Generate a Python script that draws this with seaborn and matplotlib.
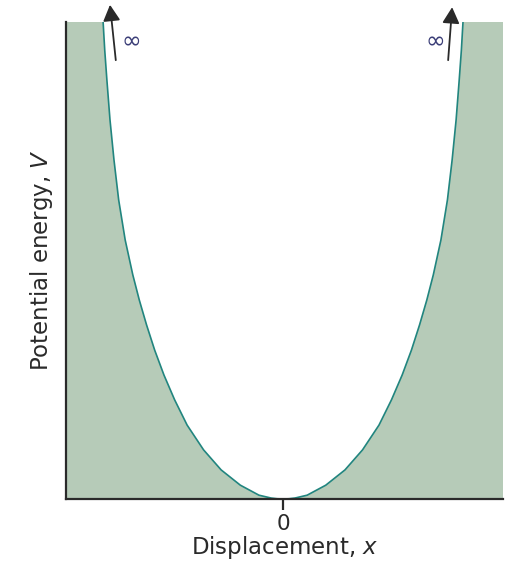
import numpy as np
import pandas as pd
import matplotlib
matplotlib.use("Agg")
import matplotlib.pyplot as plt
import seaborn as sns

# Potential-energy well, left wall then right wall
# (displacement scaled so the walls reach the top of the frame near ±1)
displacement = [-0.994, -0.985, -0.973, -0.956, -0.934, -0.908, -0.872,
                -0.830, -0.794, -0.754, -0.709, -0.658, -0.599, -0.530,
                -0.439, -0.342, -0.236, -0.133, -0.066, -0.033, 0.000,
                0.033, 0.066, 0.133, 0.236, 0.342, 0.439, 0.530, 0.599,
                0.658, 0.709, 0.754, 0.794, 0.830, 0.872, 0.908, 0.934,
                0.956, 0.973, 0.985, 0.994]
potential = [1.000, 0.941, 0.878, 0.795, 0.711, 0.627, 0.543,
             0.470, 0.417, 0.365, 0.312, 0.260, 0.208, 0.155,
             0.103, 0.061, 0.029, 0.008, 0.002, 0.0005, 0.000,
             0.0005, 0.002, 0.008, 0.029, 0.061, 0.103, 0.155, 0.208,
             0.260, 0.312, 0.365, 0.417, 0.470, 0.543, 0.627, 0.711,
             0.795, 0.878, 0.941, 1.000]
x_tick_values = [0]
x_tick_labels = ["0"]
infinity_label = "∞"

x_limits = (-1.199, 1.215)
v_top = 1.0

curve_color = "#21857f"
fill_color = "#b6cbb8"
ink = "#2a2a2a"

sns.set_theme(style="white")
plt.rcParams["font.family"] = ["DejaVu Sans"]
plt.rcParams["mathtext.fontset"] = "dejavusans"

fig = plt.figure(figsize=(5.12, 5.61), dpi=100)
ax = fig.add_axes([66 / 512, 1 - 499 / 561, 437 / 512, 477 / 561])

df = pd.DataFrame({"x": displacement, "V": potential})

# shaded walls: one polygon running from the left edge, along the curve,
# out to the right edge and back along the baseline
wall_x = [x_limits[0], x_limits[0]] + list(df["x"]) + [x_limits[1], x_limits[1]]
wall_v = [0.0, v_top] + list(df["V"]) + [v_top, 0.0]
ax.fill(wall_x, wall_v, color=fill_color, lw=0, zorder=1)
sns.lineplot(data=df, x="x", y="V", ax=ax, color=curve_color, lw=1.2,
             sort=False, estimator=None, zorder=2)

ax.set_xlim(*x_limits)
ax.set_ylim(0, v_top)

for side in ["top", "right"]:
    ax.spines[side].set_visible(False)
for side in ["left", "bottom"]:
    ax.spines[side].set_color(ink)
    ax.spines[side].set_linewidth(1.6)
    ax.spines[side].set_zorder(3)

ax.set_xticks(x_tick_values)
ax.set_xticklabels(x_tick_labels, fontsize=15.5)
ax.set_yticks([])
ax.tick_params(axis="x", direction="out", length=8, width=1.6, color=ink,
               bottom=True, pad=3, labelcolor=ink)
ax.set_xlabel("Displacement, $\\mathit{x}$", fontsize=16.5, labelpad=0,
              color=ink)
ax.set_ylabel("Potential energy, $\\mathit{V}$", fontsize=16.5, labelpad=8,
              color=ink)

# arrows pointing off towards infinity above each wall
arrows = [((-0.924, 0.920), (-0.956, 1.036), -0.840),
          ((0.912, 0.920), (0.934, 1.031), 0.840)]
for tail, tip, x_inf in arrows:
    ax.annotate("", xy=tip, xytext=tail,
                arrowprops=dict(arrowstyle="-|>,head_length=0.75,head_width=0.4",
                                color=ink, lw=1.3, mutation_scale=13,
                                shrinkA=0, shrinkB=0),
                annotation_clip=False)
    ax.text(x_inf, 0.960, infinity_label, ha="center", va="center",
            fontsize=17, color="#3c3f78", clip_on=False)

fig.savefig("out.png", dpi=100)
